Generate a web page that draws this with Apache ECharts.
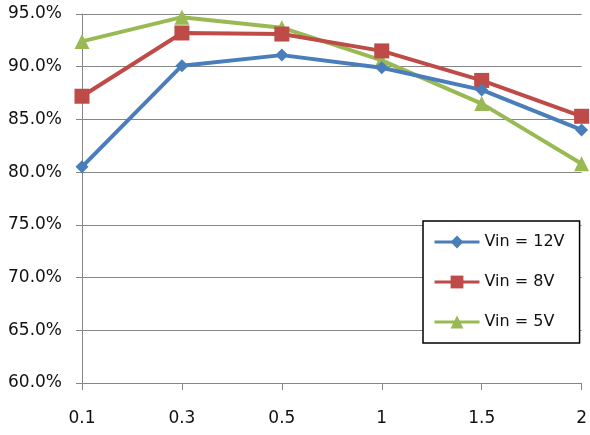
<!DOCTYPE html>
<html><head><meta charset="utf-8">
<script src="https://cdn.jsdelivr.net/npm/echarts@6/dist/echarts.min.js"></script>
<style>html,body{margin:0;padding:0;background:#fff}#c{width:590px;height:435px}</style>
</head><body><div id="c"></div>
<script>
const categories = ['0.1', '0.3', '0.5', '1', '1.5', '2'];
const vin12 = [80.5, 90.1, 91.1, 89.9, 87.8, 84.0];
const vin8 = [87.2, 93.2, 93.1, 91.5, 88.7, 85.3];
const vin5 = [92.4, 94.7, 93.7, 90.6, 86.5, 80.8];
const seriesNames = ['Vin = 12V', 'Vin = 8V', 'Vin = 5V'];
const yTicks = { min: 60, max: 95, interval: 5 };

const colors = ['#4A7EBB', '#BE4B48', '#98B954'];
const symbols = ['diamond', 'rect', 'triangle'];
const sizes = [13, 15, 15];
const font = '"DejaVu Sans", sans-serif';
const data = [vin12, vin8, vin5];

const chart = echarts.init(document.getElementById('c'));
chart.setOption({
  animation: false,
  grid: { left: 82, right: 6, top: 14, bottom: 52, containLabel: false },
  xAxis: {
    type: 'category', data: categories, boundaryGap: false,
    axisLine: { lineStyle: { color: '#868686', width: 1 } },
    axisTick: { show: true, alignWithLabel: true, length: 7, lineStyle: { color: '#868686' } },
    axisLabel: { color: '#111', fontFamily: font, fontSize: 17, margin: 27,
      formatter: v => v }
  },
  yAxis: {
    type: 'value', min: yTicks.min, max: yTicks.max, interval: yTicks.interval,
    axisLine: { show: true, lineStyle: { color: '#868686', width: 1 } },
    axisTick: { show: true, length: 6, lineStyle: { color: '#868686' } },
    splitLine: { show: true, lineStyle: { color: '#868686', width: 1 } },
    axisLabel: { color: '#111', fontFamily: font, fontSize: 17, margin: 20,
      formatter: v => v.toFixed(1) + '%' }
  },
  legend: {
    orient: 'vertical', left: 423, top: 221,
    padding: [13, 15, 13, 10], itemGap: 24, itemWidth: 45, itemHeight: 16,
    borderColor: '#000', borderWidth: 1.5, backgroundColor: '#fff',
    lineStyle: { width: 3 },
    textStyle: { color: '#111', fontFamily: font, fontSize: 16, lineHeight: 16 },
    data: seriesNames
  },
  series: seriesNames.map((n, i) => ({
    name: n, type: 'line', data: data[i],
    symbol: symbols[i], symbolSize: sizes[i],
    lineStyle: { color: colors[i], width: 4 },
    itemStyle: { color: colors[i] },
    z: 3 - i + 2
  }))
});
</script></body></html>
